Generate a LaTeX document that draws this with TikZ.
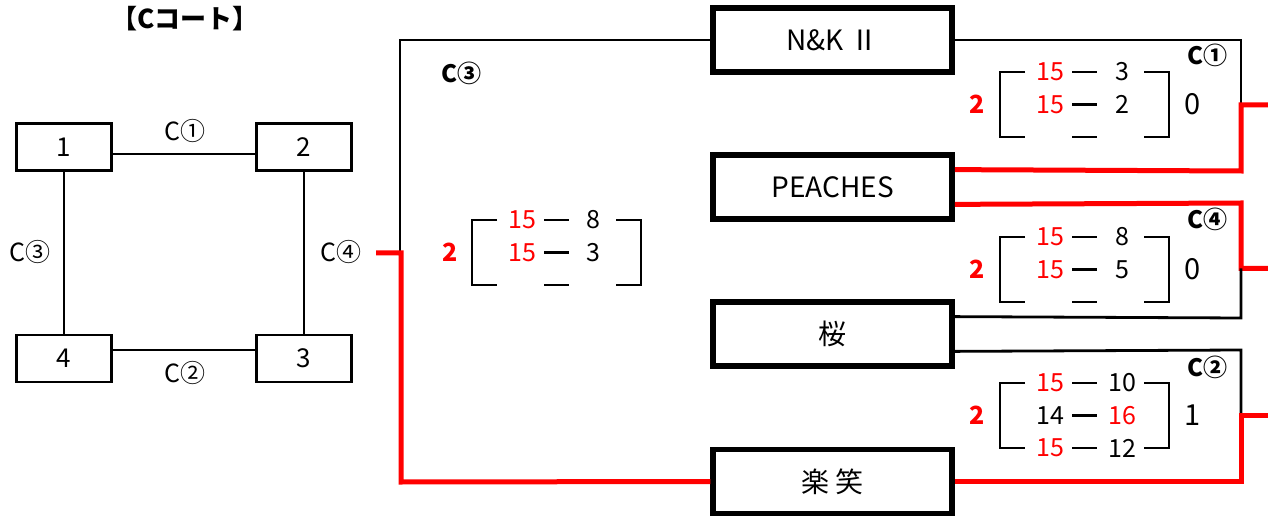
\documentclass[tikz,border=0pt]{standalone}
\usepackage{fontspec}
\setmainfont{Noto Sans CJK JP}
\usetikzlibrary{calc}
\begin{document}
\begin{tikzpicture}[x=1pt,y=-1pt,
  lbox/.style={draw,line width=2.8pt,minimum width=95pt,minimum height=47pt,inner sep=0pt,font=\fontsize{26}{26}\selectfont},
  team/.style={draw,line width=5.5pt,minimum width=239pt,minimum height=64pt,inner sep=0pt,font=\fontsize{28}{28}\selectfont},
  thin/.style={line width=2.8pt},
  redl/.style={line width=5pt,red},
  brk/.style={line width=2.6pt},
  lab/.style={inner sep=0pt,font=\fontsize{25}{25}\selectfont},
  rlab/.style={inner sep=0pt,font=\fontsize{24}{24}\selectfont\bfseries},
  sc/.style={inner sep=0pt,font=\fontsize{25}{25}\selectfont},
  win/.style={inner sep=0pt,red,font=\fontsize{25}{25}\selectfont\bfseries},
  fin/.style={inner sep=0pt,font=\fontsize{29}{29}\selectfont},
]
\useasboundingbox (0,0) rectangle (1268,518);
\newcommand\sbrk[2]{%
 \draw[brk] (#1+25,#2) -- (#1,#2) -- (#1,#2+65) -- (#1+25,#2+65);
 \draw[brk] (#1+144,#2) -- (#1+169,#2) -- (#1+169,#2+65) -- (#1+144,#2+65);
 \draw[brk] (#1+72,#2) -- (#1+97,#2);
 \draw[brk] (#1+72,#2+32.5) -- (#1+97,#2+32.5);
 \draw[brk] (#1+72,#2+65) -- (#1+97,#2+65);
}
% title
\node[inner sep=0pt,font=\fontsize{26}{26}\selectfont\bfseries] (title) at (185,19) {【Cコート】};
% left court diagram
\node[lbox] (b1) at (64,147) {1};
\node[lbox] (b2) at (304,147) {2};
\node[lbox] (b4) at (64,358.5) {4};
\node[lbox] (b3) at (304,358.5) {3};
\draw[thin] (b1.east |- 0,154) -- (b2.west |- 0,154);
\draw[thin] (b4.east |- 0,350) -- (b3.west |- 0,350);
\draw[thin] (b1.south) -- (b4.north);
\draw[thin] (b2.south) -- (b3.north);
\node[lab] (l1) at (185,131) {C①};
\node[lab] (l2) at (185,373) {C②};
\node[lab] (l3) at (30,252) {C③};
\node[lab] (l4) at (341,252) {C④};
% teams
\node[team] (nk) at (832.5,40) {N\&K Ⅱ};
\node[team] (pe) at (832.5,187) {PEACHES};
\node[team] (sa) at (832.5,334) {桜};
\node[team] (ra) at (832.5,481.5) {楽 笑};
% C3 bracket
\coordinate (c3top) at (400,40);
\coordinate (c3mid) at (400,253);
\coordinate (c3end) at (376,253);
\coordinate (c3bot) at (401,482);
\draw[thin] (nk.west) -- (c3top) -- (c3mid);
\draw[redl] (ra.west) -- (c3bot) -- (401,253) -- (c3end);
\node[rlab] (c3l) at (461,73) {C③};
% C1 bracket
\coordinate (c1a) at (1241,40);
\coordinate (c1j) at (1241,105);
\coordinate (c1e) at (1268,105);
\draw[thin] (nk.east) -- (c1a) -- (c1j);
\draw[redl] ($(pe.north east)!0.25!(pe.south east)$) -- (1241,171) -- (c1j) -- (c1e);
% C4 bracket
\coordinate (c4j) at (1241,268.5);
\coordinate (c4e) at (1268,268.5);
\draw[redl] ($(pe.north east)!0.75!(pe.south east)$) -- (1241,203) -- (c4j) -- (c4e);
\draw[thin] ($(sa.north east)!0.25!(sa.south east)$) -- (1241,318) -- (c4j);
% C2 bracket
\coordinate (c2j) at (1241,415);
\coordinate (c2e) at (1268,415);
\draw[thin] ($(sa.north east)!0.75!(sa.south east)$) -- (1241,350) -- (c2j);
\draw[redl] (ra.east) -- (1241,481.5) -- (c2j) -- (c2e);
\node[rlab] (c1l) at (1207,55) {C①};
\node[rlab] (c4l) at (1207,219) {C④};
\node[rlab] (c2l) at (1207,367) {C②};
% score blocks
\sbrk{472}{220}
\node[win] (s3w) at (450,252.5) {2};
\node[sc,red] (s3a1) at (522,220) {15};
\node[sc] (s3b1) at (593,220) {8};
\node[sc,red] (s3a2) at (522,252.5) {15};
\node[sc] (s3b2) at (593,252.5) {3};
\sbrk{1000}{72}
\node[win] (s1w) at (977,104.5) {2};
\node[sc,red] (s1a1) at (1050,72) {15};
\node[sc] (s1b1) at (1122,72) {3};
\node[sc,red] (s1a2) at (1050,104.5) {15};
\node[sc] (s1b2) at (1122,104.5) {2};
\node[fin] (s1f) at (1193,104.5) {0};
\sbrk{1000}{237}
\node[win] (s4w) at (977,269.5) {2};
\node[sc,red] (s4a1) at (1050,237) {15};
\node[sc] (s4b1) at (1122,237) {8};
\node[sc,red] (s4a2) at (1050,269.5) {15};
\node[sc] (s4b2) at (1122,269.5) {5};
\node[fin] (s4f) at (1193,269.5) {0};
\sbrk{1000}{383}
\node[win] (s2w) at (977,415.5) {2};
\node[sc,red] (s2a1) at (1050,383) {15};
\node[sc] (s2b1) at (1122,383) {10};
\node[sc] (s2a2) at (1050,415.5) {14};
\node[sc,red] (s2b2) at (1122,415.5) {16};
\node[sc,red] (s2a3) at (1050,448) {15};
\node[sc] (s2b3) at (1122,448) {12};
\node[fin] (s2f) at (1193,415.5) {1};
\end{tikzpicture}
\end{document}
